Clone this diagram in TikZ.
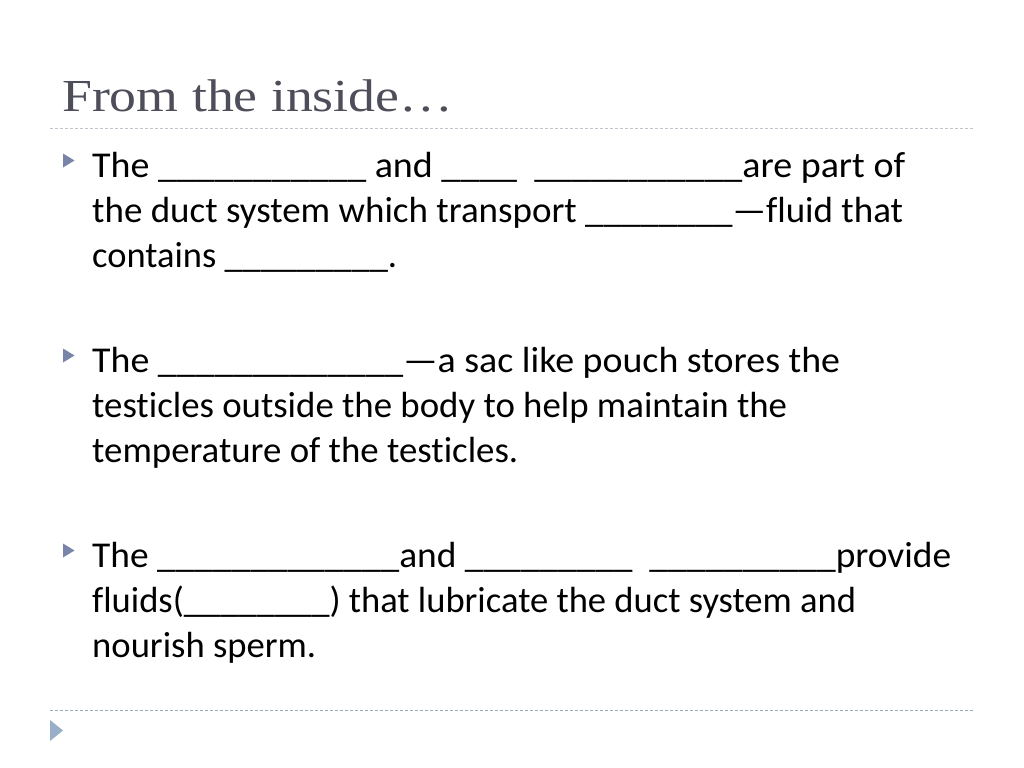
\documentclass[tikz,border=0pt]{standalone}
\usepackage{fontspec}
\usepackage{graphicx}
\setmainfont{Carlito}[Ligatures=NoCommon]
\newfontfamily\titlefont{Liberation Serif}
\definecolor{titlegray}{RGB}{78,78,90}
\definecolor{bulletblue}{RGB}{120,132,168}
\definecolor{footblue}{RGB}{152,175,200}
\definecolor{rulegray}{RGB}{190,196,204}
\definecolor{footrule}{RGB}{150,170,195}
\newcommand\fitw[2]{\resizebox{#1bp}{\height}{#2}}
\tikzset{
  bodytext/.style={anchor=base west, inner sep=0pt, text=black,
    font=\fontsize{36.5}{44}\selectfont},
  titletext/.style={anchor=base west, inner sep=0pt, text=titlegray,
    font=\titlefont\fontsize{46}{52}\selectfont},
  bulletmark/.style={fill=bulletblue},
  toprule/.style={draw=rulegray, line width=1bp, dash pattern=on 3bp off 2bp},
  footline/.style={draw=footrule, line width=1bp, dash pattern=on 3bp off 2bp}
}
\begin{document}
\begin{tikzpicture}[x=1bp,y=-1bp]
\useasboundingbox (0,0) rectangle (1024,768);
\fill[white] (0,0) rectangle (1024,768);

% title
\node[titletext] (title) at (62,112) {\fitw{391}{From the inside…}};
\draw[toprule] (50,128) -- (973,128);

% bullet 1
\fill[bulletmark] (63,153.5) -- (74.5,160.5) -- (63,167.5) -- cycle;
\node[bodytext] (b1l1) at (92,177) {\fitw{813}{The \_\_\_\_\_\_\_\_\_\_\_ and \_\_\_\_\ \ \_\_\_\_\_\_\_\_\_\_\_are part of}};
\node[bodytext] (b1l2) at (92,222) {\fitw{811}{the duct system which transport \_\_\_\_\_\_\_\_—fluid that}};
\node[bodytext] (b1l3) at (92,267) {\fitw{305}{contains \_\_\_\_\_\_\_\_\_.}};

% bullet 2
\fill[bulletmark] (63,348.5) -- (74.5,355.5) -- (63,362.5) -- cycle;
\node[bodytext] (b2l1) at (92,372) {\fitw{748}{The \_\_\_\_\_\_\_\_\_\_\_\_\_—a sac like pouch stores the}};
\node[bodytext] (b2l2) at (92,417) {\fitw{695}{testicles outside the body to help maintain the}};
\node[bodytext] (b2l3) at (92,462) {\fitw{426}{temperature of the testicles.}};

% bullet 3
\fill[bulletmark] (63,543.5) -- (74.5,550.5) -- (63,557.5) -- cycle;
\node[bodytext] (b3l1) at (92,567) {\fitw{859}{The \_\_\_\_\_\_\_\_\_\_\_\_\_and \_\_\_\_\_\_\_\_\_\ \ \_\_\_\_\_\_\_\_\_\_provide}};
\node[bodytext] (b3l2) at (92,612) {\fitw{764}{fluids(\_\_\_\_\_\_\_\_) that lubricate the duct system and}};
\node[bodytext] (b3l3) at (92,657) {\fitw{224}{nourish sperm.}};

% footer
\draw[footline] (50,710) -- (973,710);
\fill[footblue] (50,720) -- (63,730.5) -- (50,741) -- cycle;
\end{tikzpicture}
\end{document}
